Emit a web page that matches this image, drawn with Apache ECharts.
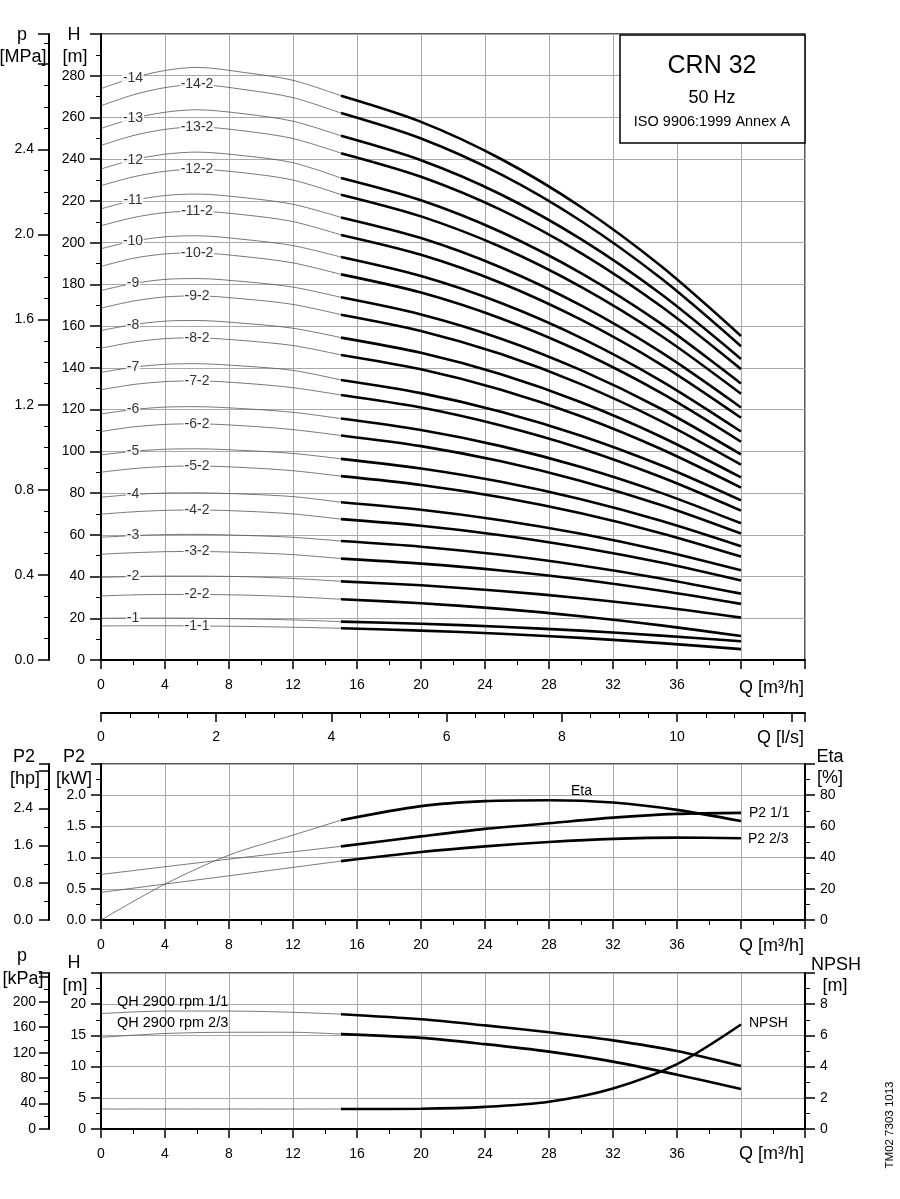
<!DOCTYPE html>
<html><head><meta charset="utf-8">
<script src="https://cdn.jsdelivr.net/npm/echarts@6/dist/echarts.min.js"></script>
<style>html,body{margin:0;padding:0;background:#fff}#c{width:900px;height:1199px}</style>
</head><body><div id="c"></div>
<script>
// ---------- data: top chart (H in m) ----------
const qTop = [0, 2, 4, 6, 9, 12, 15, 20, 25, 30, 35, 40];
const thinEnd = 6; // index of Q=15 where thick part begins
const H_14   = [273.8, 279.0, 282.5, 284.0, 281.5, 277.8, 270.4, 257.9, 240.1, 217.1, 188.8, 155.3];
const H_14_2 = [265.6, 270.8, 274.3, 275.8, 273.3, 269.5, 262.1, 249.9, 232.7, 210.4, 182.9, 150.4];
const H_13   = [254.7, 259.5, 262.5, 263.7, 261.7, 258.2, 251.2, 239.5, 223.1, 201.7, 175.4, 144.3];
const H_13_2 = [246.6, 251.3, 254.3, 255.5, 253.5, 249.9, 242.9, 231.6, 215.7, 195.0, 169.5, 139.4];
const H_12   = [235.3, 239.7, 242.4, 243.4, 241.6, 238.3, 231.0, 220.3, 205.1, 185.4, 161.2, 132.5];
const H_12_2 = [227.3, 231.5, 234.2, 235.2, 233.4, 230.0, 223.0, 212.6, 197.9, 178.8, 155.4, 127.6];
const H_11   = [216.2, 220.2, 222.6, 223.3, 221.5, 218.4, 212.1, 202.2, 188.1, 169.9, 147.5, 121.0];
const H_11_2 = [208.1, 212.0, 214.4, 215.1, 213.3, 210.1, 203.7, 194.2, 180.7, 163.1, 141.6, 116.1];
const H_10   = [197.1, 200.7, 202.8, 203.3, 201.5, 198.6, 193.1, 184.0, 171.1, 154.4, 133.8, 109.5];
const H_10_2 = [188.6, 192.5, 194.6, 195.1, 193.3, 190.3, 184.8, 176.1, 163.7, 147.7, 128.0, 104.6];
const H_9    = [177.1, 180.4, 182.4, 182.8, 181.3, 178.7, 173.8, 165.6, 154.0, 138.9, 120.4, 98.5];
const H_9_2  = [168.6, 172.0, 174.0, 174.5, 173.0, 170.4, 165.5, 157.7, 146.6, 132.2, 114.5, 93.6];
const H_8    = [157.9, 160.7, 162.4, 162.7, 161.3, 159.0, 154.5, 147.2, 136.9, 123.5, 107.0, 87.5];
const H_8_2  = [149.4, 152.3, 154.0, 154.4, 153.0, 150.7, 146.2, 139.3, 129.5, 116.8, 101.1, 82.6];
const H_7    = [137.8, 140.3, 141.7, 142.0, 140.8, 138.8, 134.2, 127.9, 119.0, 107.5, 93.3, 76.5];
const H_7_2  = [129.5, 132.0, 133.4, 133.8, 132.6, 130.5, 127.0, 121.0, 112.4, 101.4, 87.7, 71.6];
const H_6    = [117.9, 120.0, 121.2, 121.4, 120.4, 118.7, 115.7, 110.2, 102.5, 92.5, 80.1, 65.5];
const H_6_2  = [109.5, 111.7, 112.9, 113.2, 112.2, 110.4, 107.6, 102.5, 95.2, 85.8, 74.3, 60.6];
const H_5    = [98.3, 100.0, 101.0, 101.2, 100.4, 99.0, 96.4, 91.8, 85.4, 77.0, 66.7, 54.5];
const H_5_2  = [90.0, 91.7, 92.7, 93.0, 92.2, 90.7, 88.1, 83.9, 78.0, 70.3, 60.8, 49.6];
const H_4    = [78.0, 79.3, 80.0, 80.1, 79.5, 78.3, 75.6, 72.0, 67.0, 60.5, 52.5, 43.0];
const H_4_2  = [69.9, 71.0, 71.7, 71.9, 71.3, 70.0, 67.5, 64.3, 59.8, 53.9, 46.7, 38.1];
const H_3    = [58.8, 59.6, 60.1, 60.2, 59.7, 58.8, 57.0, 54.3, 50.4, 45.3, 39.1, 31.8];
const H_3_2  = [50.7, 51.4, 51.9, 52.0, 51.5, 50.5, 48.6, 46.2, 42.9, 38.6, 33.2, 26.9];
const H_2    = [39.6, 40.0, 40.2, 40.2, 39.9, 39.1, 37.7, 35.8, 33.1, 29.6, 25.4, 20.3];
const H_2_2  = [30.7, 31.2, 31.4, 31.4, 31.1, 30.3, 29.1, 27.2, 24.5, 21.0, 16.6, 11.5];
const H_1    = [20.0, 20.1, 20.1, 20.0, 19.7, 19.2, 18.4, 17.4, 15.9, 14.1, 11.7, 9.0];
const H_1_1  = [16.3, 16.4, 16.4, 16.3, 16.1, 15.7, 15.2, 14.1, 12.6, 10.6, 8.1, 5.2];
// label name, curve, index in qTop where the label sits
const curves = [
  ['-14', H_14, 1], ['-14-2', H_14_2, 3], ['-13', H_13, 1], ['-13-2', H_13_2, 3],
  ['-12', H_12, 1], ['-12-2', H_12_2, 3], ['-11', H_11, 1], ['-11-2', H_11_2, 3],
  ['-10', H_10, 1], ['-10-2', H_10_2, 3], ['-9', H_9, 1], ['-9-2', H_9_2, 3],
  ['-8', H_8, 1], ['-8-2', H_8_2, 3], ['-7', H_7, 1], ['-7-2', H_7_2, 3],
  ['-6', H_6, 1], ['-6-2', H_6_2, 3], ['-5', H_5, 1], ['-5-2', H_5_2, 3],
  ['-4', H_4, 1], ['-4-2', H_4_2, 3], ['-3', H_3, 1], ['-3-2', H_3_2, 3],
  ['-2', H_2, 1], ['-2-2', H_2_2, 3], ['-1', H_1, 1], ['-1-1', H_1_1, 3]
];
// ---------- data: power / efficiency ----------
const qLow = [0, 4, 8, 12, 15, 20, 24, 28, 32, 36, 40];
const lowThinEnd = 4;
const etaPct  = [0, 23.0, 41.6, 54.4, 64.0, 73.0, 76.2, 76.8, 75.3, 70.6, 63.4];
const p2Full  = [0.73, 0.853, 0.976, 1.093, 1.18, 1.34, 1.46, 1.55, 1.64, 1.70, 1.717];
const p2Red   = [0.443, 0.576, 0.709, 0.843, 0.944, 1.09, 1.18, 1.25, 1.30, 1.32, 1.31];
// ---------- data: single-stage QH and NPSH ----------
const qhFull  = [18.5, 18.9, 18.9, 18.7, 18.4, 17.6, 16.6, 15.5, 14.2, 12.5, 10.1];
const qhRed   = [14.7, 15.3, 15.5, 15.5, 15.2, 14.6, 13.6, 12.4, 10.8, 8.7, 6.4];
const npsh    = [1.28, 1.28, 1.28, 1.28, 1.28, 1.30, 1.42, 1.75, 2.6, 4.16, 6.7];
// ---------- tick label sets ----------
const qTicksShown = [0, 4, 8, 12, 16, 20, 24, 28, 32, 36];
const lsTicksShown = [0, 2, 4, 6, 8, 10];

const FONT = '"Liberation Sans", Arial, sans-serif';
const THIN = {color: '#555', width: 0.8};
const THICK = {color: '#000', width: 2.6};
const GRIDC = '#a8a8a8';

function pairs(xs, ys, a, b) { const out = []; for (let i = a; i <= b; i++) out.push([xs[i], ys[i]]); return out; }
function lineSeries(xi, yi, data, style) {
  return {type: 'line', xAxisIndex: xi, yAxisIndex: yi, data: data, smooth: 0.3,
    showSymbol: false, symbol: 'none', silent: true, lineStyle: style, z: style === THICK ? 4 : 3, animation: false};
}
function xAxisQ(grid) {
  return {gridIndex: grid, type: 'value', min: 0, max: 44, interval: 4,
    axisLine: {lineStyle: {color: '#000', width: 2}},
    axisTick: {length: 9, lineStyle: {color: '#000', width: 1.5}},
    minorTick: {show: true, splitNumber: 2, length: 5, lineStyle: {color: '#000', width: 1}},
    splitLine: {show: true, lineStyle: {color: GRIDC, width: 1}},
    axisLabel: {margin: 18, fontSize: 14, color: '#000', fontFamily: FONT,
      formatter: v => qTicksShown.indexOf(v) >= 0 ? String(v) : ''}};
}
function yAx(grid, o) {
  const base = {gridIndex: grid, type: 'value', position: 'left',
    axisLine: {show: true, lineStyle: {color: '#000', width: 2}},
    axisTick: {show: true, length: 10, lineStyle: {color: '#000', width: 1.5}},
    minorTick: {show: true, splitNumber: 2, length: 5, lineStyle: {color: '#000', width: 1}},
    splitLine: {show: false},
    axisLabel: {margin: 15, fontSize: 14, color: '#000', fontFamily: FONT}};
  const r = Object.assign(base, o);
  if (o.label) { r.axisLabel = Object.assign({}, base.axisLabel, o.label); delete r.label; }
  return r;
}

const series = [];
curves.forEach(c => {
  series.push(lineSeries(0, 0, pairs(qTop, c[1], 0, thinEnd), THIN));
  series.push(lineSeries(0, 0, pairs(qTop, c[1], thinEnd, qTop.length - 1), THICK));
});
series.push({type: 'scatter', xAxisIndex: 0, yAxisIndex: 0, symbolSize: 0, silent: true, z: 6, animation: false,
  data: curves.map(c => ({value: [qTop[c[2]], c[1][c[2]]], name: c[0]})),
  label: {show: true, position: 'inside', formatter: p => p.name, fontSize: 14, color: '#000',
    fontFamily: FONT, backgroundColor: '#fff', padding: [0, 1]}});
// power chart
series.push(lineSeries(2, 5, pairs(qLow, etaPct, 0, lowThinEnd), THIN));
series.push(lineSeries(2, 5, pairs(qLow, etaPct, lowThinEnd, qLow.length - 1), THICK));
series.push(lineSeries(2, 3, pairs(qLow, p2Full, 0, lowThinEnd), THIN));
series.push(lineSeries(2, 3, pairs(qLow, p2Full, lowThinEnd, qLow.length - 1), THICK));
series.push(lineSeries(2, 3, pairs(qLow, p2Red, 0, lowThinEnd), THIN));
series.push(lineSeries(2, 3, pairs(qLow, p2Red, lowThinEnd, qLow.length - 1), THICK));
// NPSH chart
series.push(lineSeries(3, 6, pairs(qLow, qhFull, 0, lowThinEnd), THIN));
series.push(lineSeries(3, 6, pairs(qLow, qhFull, lowThinEnd, qLow.length - 1), THICK));
series.push(lineSeries(3, 6, pairs(qLow, qhRed, 0, lowThinEnd), THIN));
series.push(lineSeries(3, 6, pairs(qLow, qhRed, lowThinEnd, qLow.length - 1), THICK));
series.push(lineSeries(3, 8, pairs(qLow, npsh, 0, lowThinEnd), THIN));
series.push(lineSeries(3, 8, pairs(qLow, npsh, lowThinEnd, qLow.length - 1), THICK));

function txt(t, x, y, size, align, extra) {
  return Object.assign({type: 'text', x: x, y: y, z: 100,
    style: {text: t, font: size + 'px ' + FONT, fill: '#000', align: align || 'center', verticalAlign: 'middle',
      textAlign: align || 'center', textVerticalAlign: 'middle'}}, extra || {});
}
const graphics = [
  {type: 'rect', shape: {x: 620, y: 35, width: 185, height: 108}, style: {fill: '#fff', stroke: '#000', lineWidth: 1.5}, z: 90},
  txt('CRN 32', 712, 66, 25), txt('50 Hz', 712, 98, 18), txt('ISO 9906:1999 Annex A', 712, 122, 14.5),
  txt('p', 22, 35, 18), txt('[MPa]', 23, 57, 18), txt('H', 74, 35, 18), txt('[m]', 75, 57, 18),
  txt('Q [m³/h]', 804, 688, 18, 'right'), txt('Q [l/s]', 804, 738, 18, 'right'),
  txt('P2', 24, 757, 18), txt('[hp]', 25, 779, 18), txt('P2', 74, 757, 18), txt('[kW]', 74, 779, 18),
  txt('Eta', 830, 757, 18), txt('[%]', 830, 778, 18),
  txt('Eta', 571, 791, 14, 'left'), txt('P2 1/1', 749, 813, 14, 'left'), txt('P2 2/3', 748, 839, 14, 'left'),
  txt('Q [m³/h]', 804, 946, 18, 'right'),
  txt('p', 22, 956, 18), txt('[kPa]', 23, 979, 18), txt('H', 74, 963, 18), txt('[m]', 75, 986, 18),
  txt('NPSH', 836, 965, 18), txt('[m]', 835, 986, 18),
  txt('QH 2900 rpm 1/1', 117, 1002, 14.5, 'left'), txt('QH 2900 rpm 2/3', 117, 1023, 14.5, 'left'),
  txt('NPSH', 749, 1023, 14, 'left'),
  txt('Q [m³/h]', 804, 1154, 18, 'right'),
  txt('TM02 7303 1013', 890, 1125, 11.5, 'center', {rotation: Math.PI / 2})
];

const option = {
  animation: false,
  backgroundColor: '#fff',
  textStyle: {fontFamily: FONT},
  grid: [
    {left: 101, top: 34, width: 704, height: 626, show: true, borderColor: '#222', borderWidth: 1.5, backgroundColor: 'transparent'},
    {left: 101, top: 700, width: 704, height: 13, show: false},
    {left: 101, top: 764, width: 704, height: 156, show: true, borderColor: '#222', borderWidth: 1.5, backgroundColor: 'transparent'},
    {left: 101, top: 973, width: 704, height: 156, show: true, borderColor: '#222', borderWidth: 1.5, backgroundColor: 'transparent'}
  ],
  xAxis: [
    xAxisQ(0),
    {gridIndex: 1, type: 'value', min: 0, max: 44 / 3.6, interval: 2,
      axisLine: {lineStyle: {color: '#000', width: 2}},
      axisTick: {length: 9, lineStyle: {color: '#000', width: 1.5}},
      minorTick: {show: true, splitNumber: 4, length: 5, lineStyle: {color: '#000', width: 1}},
      splitLine: {show: false},
      axisLabel: {margin: 17, fontSize: 14, color: '#000', fontFamily: FONT,
        formatter: v => lsTicksShown.indexOf(v) >= 0 ? String(v) : ''}},
    xAxisQ(2),
    xAxisQ(3)
  ],
  yAxis: [
    yAx(0, {min: 0, max: 300, interval: 20, axisTick: {length: 11, lineStyle: {color: '#000', width: 1.5}},
      splitLine: {show: true, lineStyle: {color: GRIDC, width: 1}},
      label: {margin: 16, formatter: v => v < 290 ? String(v) : ''}}),
    yAx(0, {offset: 52, min: 0, max: 300 * 0.00980665, interval: 0.4,
      axisTick: {length: 11, lineStyle: {color: '#000', width: 1.5}},
      minorTick: {show: true, splitNumber: 4, length: 5, lineStyle: {color: '#000', width: 1}},
      label: {margin: 15, formatter: v => v <= 2.41 ? v.toFixed(1) : ''}}),
    {gridIndex: 1, type: 'value', show: false, min: 0, max: 1},
    yAx(2, {min: 0, max: 2.5, interval: 0.5, splitLine: {show: true, lineStyle: {color: GRIDC, width: 1}},
      label: {margin: 15, formatter: v => v <= 2.01 ? v.toFixed(1) : ''}}),
    yAx(2, {offset: 52, min: 0, max: 2.5 / 0.7457, interval: 0.8,
      label: {margin: 16, formatter: v => v <= 2.41 ? v.toFixed(1) : ''}}),
    yAx(2, {position: 'right', min: 0, max: 100, interval: 20,
      label: {margin: 15, formatter: v => v <= 80 ? String(v) : ''}}),
    yAx(3, {min: 0, max: 25, interval: 5, splitLine: {show: true, lineStyle: {color: GRIDC, width: 1}},
      label: {margin: 15, formatter: v => v <= 20 ? String(v) : ''}}),
    yAx(3, {offset: 52, min: 0, max: 25 * 9.80665, interval: 40,
      label: {margin: 13, formatter: v => v <= 200 ? String(v) : ''}}),
    yAx(3, {position: 'right', min: 0, max: 10, interval: 2,
      label: {margin: 15, formatter: v => v <= 8 ? String(v) : ''}})
  ],
  series: series,
  graphic: {elements: graphics}
};
const chart = echarts.init(document.getElementById('c'), null, {renderer: 'canvas'});
chart.setOption(option);
</script></body></html>
